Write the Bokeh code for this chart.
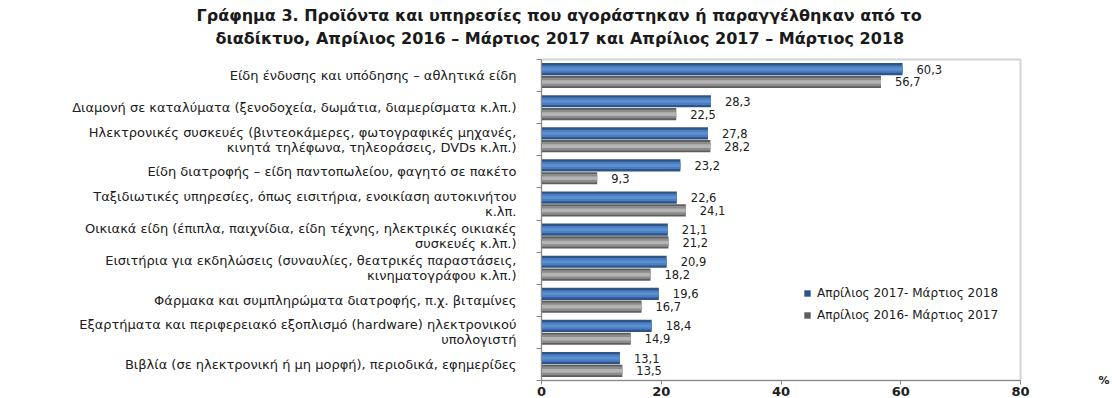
from bokeh.plotting import figure
from bokeh.models import (ColumnDataSource, LabelSet, Range1d, FixedTicker,
                          Legend, LegendItem, Title, LinearAxis)
from bokeh.core.properties import value
from bokeh.embed import file_html
from bokeh.resources import INLINE

# Products / services bought online, % of internet users
categories = [
    "Είδη ένδυσης και υπόδησης – αθλητικά είδη",
    "Διαμονή σε καταλύματα (ξενοδοχεία, δωμάτια, διαμερίσματα κ.λπ.)",
    "Ηλεκτρονικές συσκευές (βιντεοκάμερες, φωτογραφικές μηχανές,\nκινητά τηλέφωνα, τηλεοράσεις, DVDs κ.λπ.)",
    "Είδη διατροφής – είδη παντοπωλείου, φαγητό σε πακέτο",
    "Ταξιδιωτικές υπηρεσίες, όπως εισιτήρια, ενοικίαση αυτοκινήτου\nκ.λπ.",
    "Οικιακά είδη (έπιπλα, παιχνίδια, είδη τέχνης, ηλεκτρικές οικιακές\nσυσκευές κ.λπ.)",
    "Εισιτήρια για εκδηλώσεις (συναυλίες, θεατρικές παραστάσεις,\nκινηματογράφου κ.λπ.)",
    "Φάρμακα και συμπληρώματα διατροφής, π.χ. βιταμίνες",
    "Εξαρτήματα και περιφερειακό εξοπλισμό (hardware) ηλεκτρονικού\nυπολογιστή",
    "Βιβλία (σε ηλεκτρονική ή μη μορφή), περιοδικά, εφημερίδες",
]
series_2018 = [60.3, 28.3, 27.8, 23.2, 22.6, 21.1, 20.9, 19.6, 18.4, 13.1]
series_2017 = [56.7, 22.5, 28.2, 9.3, 24.1, 21.2, 18.2, 16.7, 14.9, 13.5]
series_names = ["Απρίλιος 2017- Μάρτιος 2018", "Απρίλιος 2016- Μάρτιος 2017"]
x_ticks = [0, 20, 40, 60, 80]
title_lines = [
    "Γράφημα 3. Προϊόντα και υπηρεσίες που αγοράστηκαν ή παραγγέλθηκαν από το",
    "διαδίκτυο,  Απρίλιος 2016 – Μάρτιος 2017 και Απρίλιος 2017 – Μάρτιος 2018",
]
unit_label = "%"

FONT = "DejaVu Sans"
n = len(categories)
centers = [i + 0.5 for i in range(n)]

def fmt(v):
    return f"{v:.1f}".replace(".", ",")

src_new = ColumnDataSource(dict(y=[c - 0.2 for c in centers], v=series_2018,
                                t=[fmt(v) for v in series_2018]))
src_old = ColumnDataSource(dict(y=[c + 0.2 for c in centers], v=series_2017,
                                t=[fmt(v) for v in series_2017]))

p = figure(width=1112, height=398, output_backend="svg", toolbar_location=None,
           x_range=Range1d(0, 80), y_range=Range1d(n, 0),
           min_border_left=541, min_border_right=89, min_border_top=59,
           min_border_bottom=0)
p.background_fill_color = "white"
p.border_fill_color = "white"
p.outline_line_color = "#d4d4d4"
p.outline_line_width = 2
p.grid.visible = False

# bars with a simple shaded look: dark base, lighter core
BAR_H = 0.38
r_new = p.hbar(y="y", right="v", left=0, height=BAR_H, source=src_new,
               fill_color="#2E5588", line_color=None)
p.hbar(y="y", right="v", left=0, height=BAR_H * 0.6, source=src_new,
       fill_color="#4A7EC0", line_color=None)
p.hbar(y="y", right="v", left=0, height=BAR_H * 0.25, source=src_new,
       fill_color="#5B8FD0", line_color=None)
r_old = p.hbar(y="y", right="v", left=0, height=BAR_H, source=src_old,
               fill_color="#5E5E5E", line_color=None)
p.hbar(y="y", right="v", left=0, height=BAR_H * 0.7, source=src_old,
       fill_color="#8C8C8C", line_color=None)
p.hbar(y="y", right="v", left=0, height=BAR_H * 0.3, source=src_old,
       fill_color="#B4B4B4", line_color=None)

# value labels
for src in (src_new, src_old):
    p.add_layout(LabelSet(x="v", y="y", text="t", source=src, x_offset=14,
                          text_align="left", text_baseline="middle",
                          text_font=value(FONT), text_font_size="11.5px",
                          text_color="#202020"))

# y axis: category names at group centres, separators as minor ticks
p.yaxis.ticker = FixedTicker(ticks=centers, minor_ticks=list(range(n + 1)))
p.yaxis.major_label_overrides = {c: cat for c, cat in zip(centers, categories)}
p.yaxis.major_label_text_font = FONT
p.yaxis.major_label_text_font_size = "13px"
p.yaxis.major_label_text_line_height = 1.0
p.yaxis.major_label_text_color = "#202020"
p.yaxis.major_label_text_align = "center"
p.yaxis.major_label_standoff = 20
p.yaxis.major_tick_out = 0
p.yaxis.major_tick_in = 0
p.yaxis.minor_tick_out = 5
p.yaxis.minor_tick_in = 0
p.yaxis.minor_tick_line_color = "#8a8a8a"
p.yaxis.axis_line_color = "#8a8a8a"

p.xaxis.ticker = FixedTicker(ticks=x_ticks)
p.xaxis.major_label_text_font = FONT
p.xaxis.major_label_text_font_size = "13px"
p.xaxis.major_label_text_font_style = "bold"
p.xaxis.major_label_text_color = "#202020"
p.xaxis.major_tick_out = 4
p.xaxis.major_tick_in = 0
p.xaxis.minor_tick_line_color = None
p.xaxis.axis_line_color = "#8a8a8a"
p.xaxis.major_tick_line_color = "#8a8a8a"
p.xaxis.major_label_standoff = 2

# unit marker at the right end of the value axis
unit_axis = LinearAxis(ticker=FixedTicker(ticks=[n]),
                       major_label_overrides={n: unit_label},
                       axis_line_color=None, major_tick_line_color=None,
                       minor_tick_line_color=None, major_label_standoff=72,
                       major_label_text_font=FONT,
                       major_label_text_font_size="11px",
                       major_label_text_font_style="bold",
                       major_label_text_color="#202020")
p.add_layout(unit_axis, "right")

# legend
legend = Legend(items=[LegendItem(label=series_names[0], renderers=[r_new]),
                       LegendItem(label=series_names[1], renderers=[r_old])],
                location=(262, 58), border_line_color=None,
                background_fill_alpha=0, glyph_width=8, glyph_height=8,
                label_text_font=FONT, label_text_font_size="12px",
                label_text_color="#202020", spacing=8, padding=0,
                label_standoff=6)
p.add_layout(legend)

# two-line title, shifted left of the plot frame
def make_title(text, offset, standoff):
    t = Title(text=text, align="left", offset=offset, text_font=FONT,
              text_font_size="16px", text_font_style="bold",
              text_color="#1a1a1a")
    try:
        t.standoff = standoff
    except ValueError:
        t.standoff = 0
    return t

p.add_layout(make_title(title_lines[1], -326, 24), "above")
p.add_layout(make_title(title_lines[0], -345, -20), "above")

open("out.html", "w").write(file_html(p, INLINE))
